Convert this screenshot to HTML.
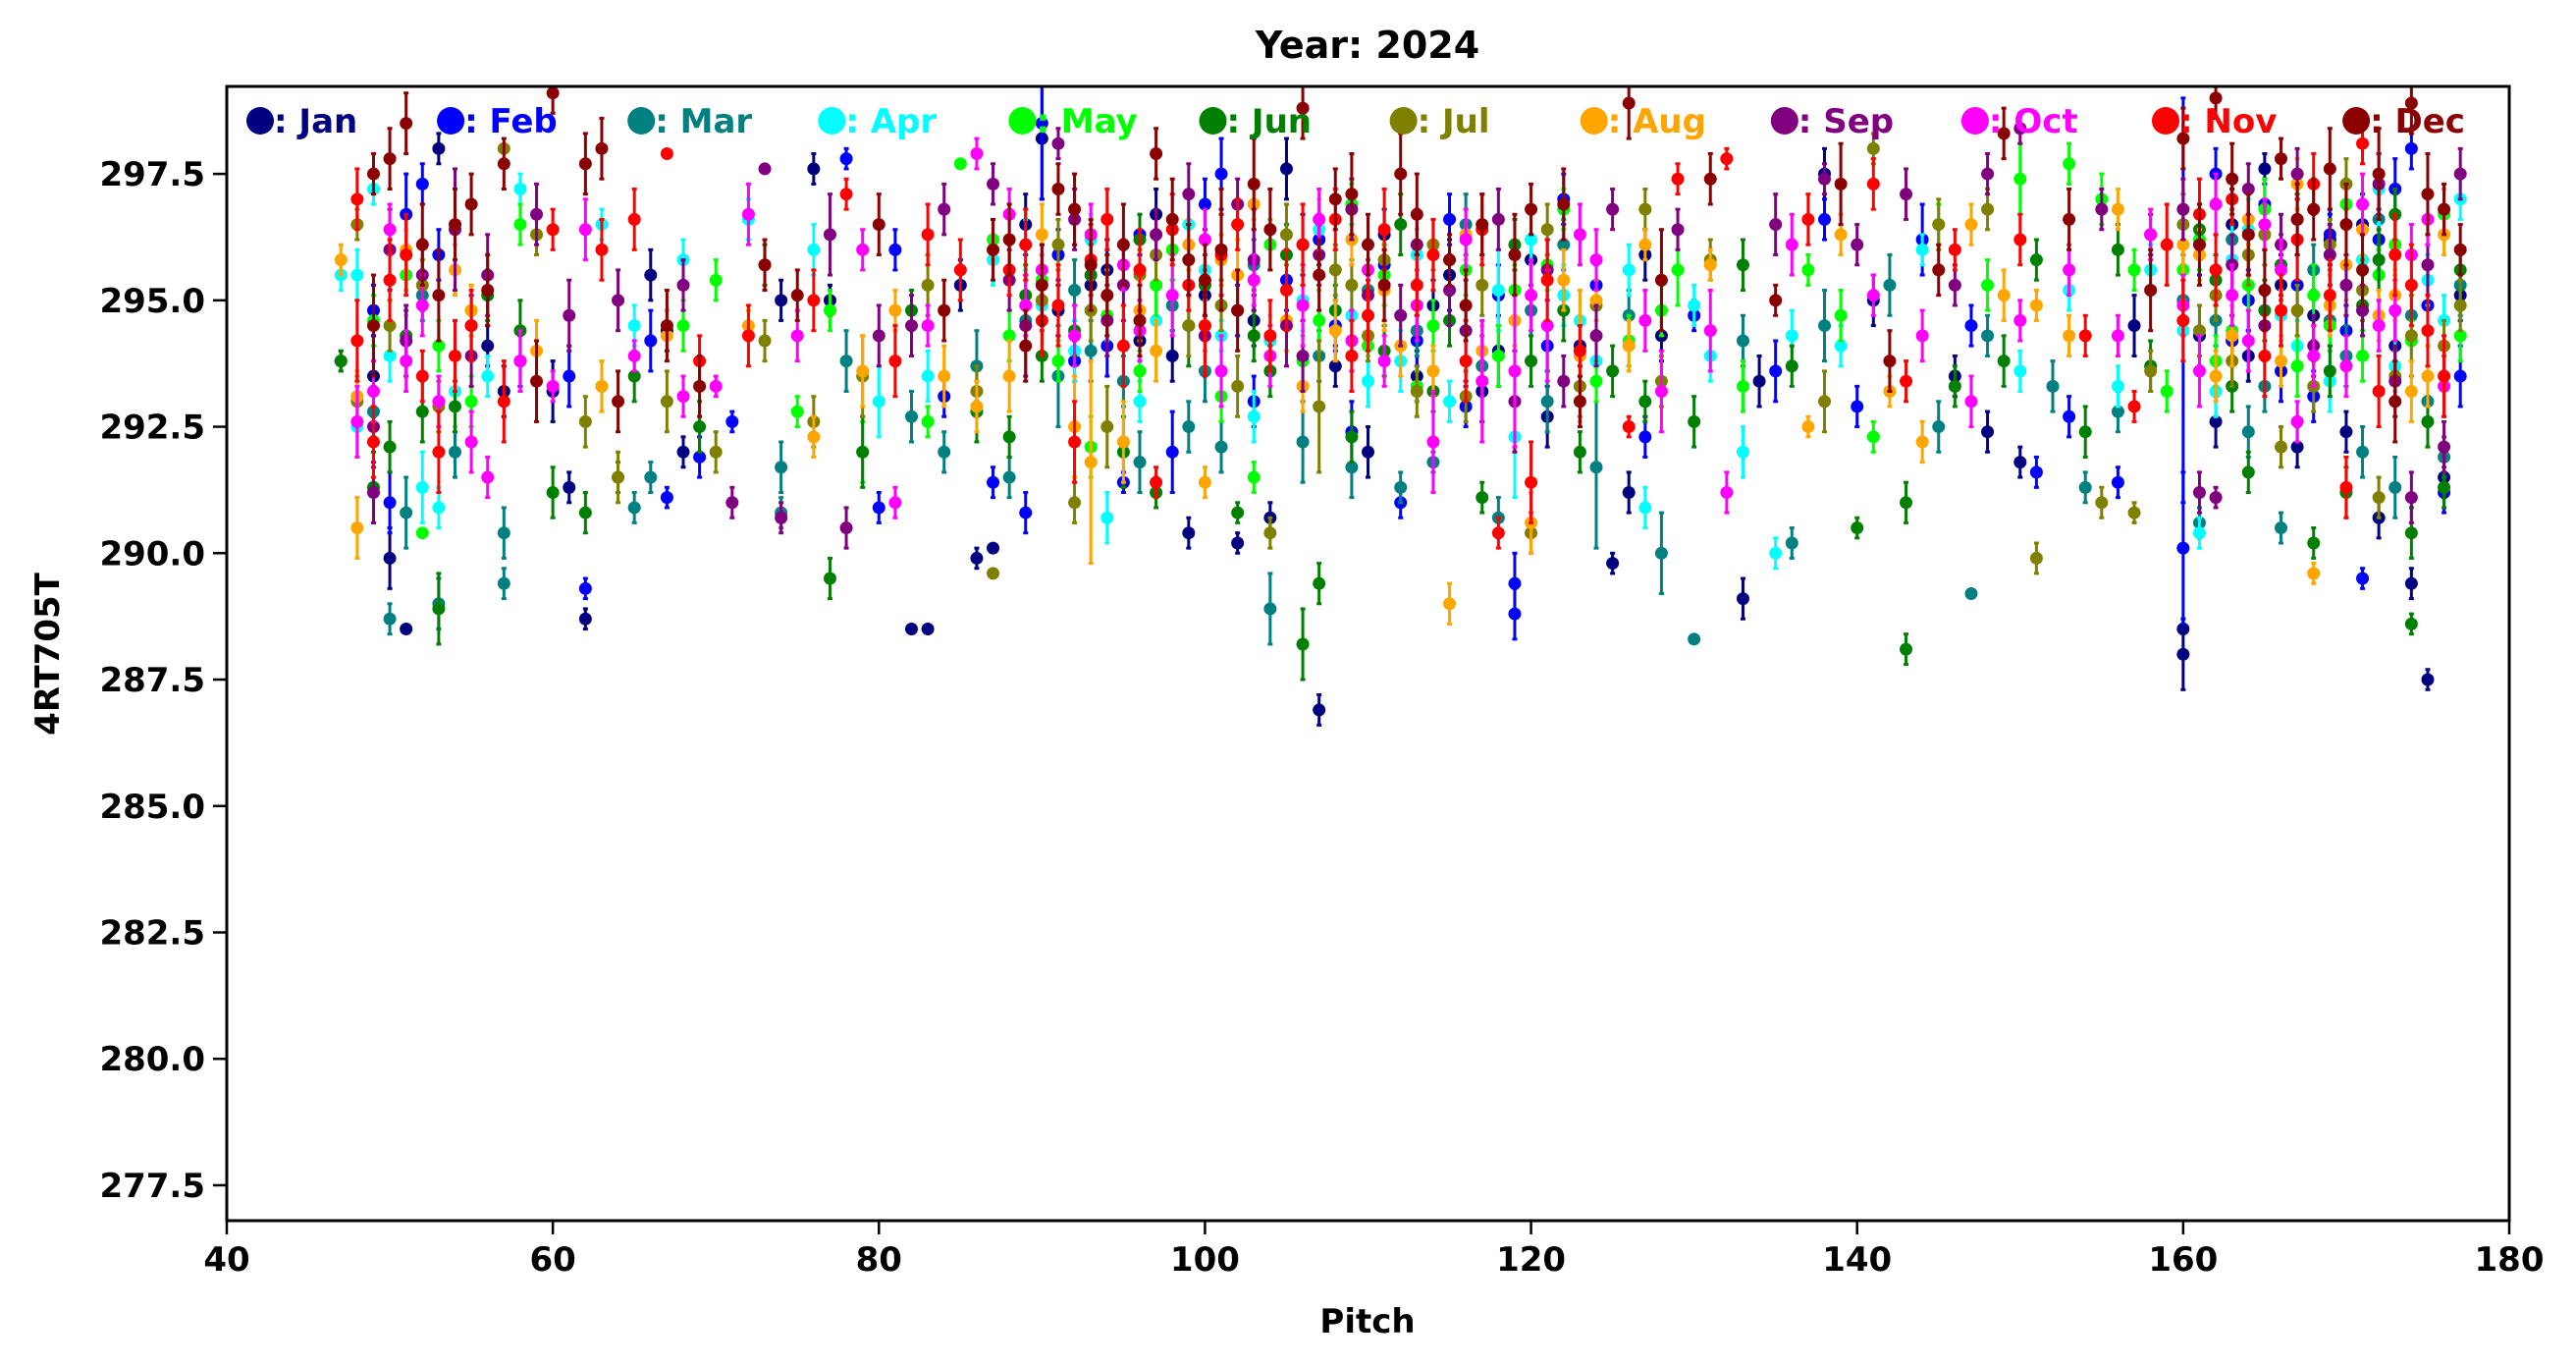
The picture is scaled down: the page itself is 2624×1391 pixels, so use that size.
<!DOCTYPE html>
<html><head><meta charset="utf-8"><style>
html,body{margin:0;padding:0;background:#fff;}
svg{display:block;font-family:"DejaVu Sans","Liberation Sans",sans-serif;font-weight:bold;}
</style></head><body>
<svg id="chart" width="2624" height="1391" viewBox="0 0 2624 1391" xmlns="http://www.w3.org/2000/svg">
<rect width="2624" height="1391" fill="#fff"/>
<defs><clipPath id="clip"><rect x="231" y="88" width="2325" height="1155"/></clipPath></defs>
<text x="1393" y="59" font-size="38" text-anchor="middle">Year: 2024</text>
<g id="marks" clip-path="url(#clip)"></g>
<g id="axes"></g>
<g id="legend"></g>
<text x="1393" y="1357" font-size="34" text-anchor="middle">Pitch</text>
<text transform="translate(60,666) rotate(-90)" font-size="34" text-anchor="middle">4RT705T</text>
</svg>
<script>
const months = ["Jan","Feb","Mar","Apr","May","Jun","Jul","Aug","Sep","Oct","Nov","Dec"];
const monthColors = ["#000080","#0000ff","#008080","#00ffff","#00ff00","#008000","#808000","#ffa500","#800080","#ff00ff","#ff0000","#8b0000"];
const xTicks = [40,60,80,100,120,140,160,180];
const yTicks = [277.5,280.0,282.5,285.0,287.5,290.0,292.5,295.0,297.5];
const yTickLabels = ["277.5","280.0","282.5","285.0","287.5","290.0","292.5","295.0","297.5"];
// each month: flattened [pitch, value, error] triples
const dataJan = [49,293.5,0.8,50,289.9,0.6,51,288.5,0,53,298,0.3,57,293.2,0.5,60,293.2,0.6,61,291.3,0.3,62,288.7,0.2,66,295.5,0.5,67,294.4,0.4,68,292,0.3,74,295,0.4,76,297.6,0.3,77,295,0.3,82,288.5,0,83,288.5,0,86,289.9,0.2,87,290.1,0,89,296.5,0.6,90,298.2,1.2,93,295.3,0.5,96,294.2,0.4,99,290.4,0.3,102,290.2,0.2,104,290.7,0.3,107,286.9,0.3,110,292,0.5,113,293.5,0.5,118,294,0.7,121,292.7,0.6,125,289.8,0.2,126,291.2,0.4,128,294.3,0.5,133,289.1,0.4,134,293.4,0.5,138,297.5,0.5,141,295,0.5,146,293.5,0.4,148,292.4,0.4,150,291.8,0.3,157,294.5,0.6,160,288,0.7,160,288.5,0,163,296.5,0.7,165,297.6,0.3,168,294.7,0.5,170,292.4,0.4,172,290.7,0.4,174,289.4,0.3,175,287.5,0.2,176,291.5,0.4,171,296.5,0.6,115,295.5,0.7,105,297.6,0.6,97,296.7,0.5,85,295.3,0.5,
 91,294.8,0.5,94,295.6,0.6,98,293.9,0.5,100,295.1,0.4,103,294.6,0.5,106,296.1,0.6,108,293.7,0.4,111,296.3,0.5,114,294.9,0.5,117,293.2,0.6,120,295.8,0.5,123,294.1,0.4,127,295.9,0.5,161,294.3,0.6,162,292.6,0.5,164,293.9,0.5,166,295.3,0.6,167,292.1,0.4,169,296.2,0.5,173,294.1,0.6,177,295.1,0.5,56,294.1,0.4];
const dataFeb = [49,294.8,0.5,50,291,0.6,51,296.7,0.8,52,297.3,0.4,55,294.5,0.6,61,293.5,0.6,62,289.3,0.2,66,294.2,0.6,67,291.1,0.2,69,291.9,0.4,71,292.6,0.2,78,297.8,0.2,80,290.9,0.3,81,296,0.4,84,293.1,0.4,87,291.4,0.3,89,290.8,0.4,90,298.5,1.5,92,293.8,0.4,95,291.4,0.2,98,292,0.8,100,296.9,0.5,101,297.5,0.7,103,293,0.5,107,296.2,0.5,109,292.4,0.6,112,291,0.3,116,292.9,0.4,119,288.8,0.5,119,289.4,0.6,122,297,0.5,127,292.3,0.4,130,294.7,0.3,135,293.6,0.6,138,296.6,0.4,140,292.9,0.4,144,296.2,0.7,147,294.5,0.4,151,291.6,0.3,156,291.4,0.3,160,290.1,1.5,160,295,4,162,297.5,0.5,166,293.6,0.6,169,296.3,0.5,171,289.5,0.2,173,297.2,0.6,174,298,0.4,176,291.2,0.4,177,293.5,0.6,164,295,0.6,153,292.7,0.4,
 91,295.9,0.5,94,294.1,0.6,96,296.3,0.4,102,294.8,0.5,105,295.4,0.6,108,294.5,0.5,111,295.7,0.4,113,294.2,0.5,115,296.6,0.5,118,295.1,0.6,121,294.1,0.5,124,295.3,0.4,161,296.1,0.6,163,294.2,0.5,165,296.9,0.5,167,295.3,0.6,168,293.1,0.5,170,294.4,0.5,172,296.2,0.6,175,294.9,0.5,58,293.8,0.5,53,295.9,0.5];
const dataMar = [47,293.8,0.2,50,288.7,0.3,51,290.8,0.7,53,289,0.5,57,289.4,0.3,57,290.4,0.5,64,291.5,0.3,65,290.9,0.3,66,291.5,0.3,74,290.8,0.3,74,291.7,0.5,78,293.8,0.6,82,292.7,0.5,84,292,0.4,86,293.7,0.7,88,291.5,0.4,91,293.5,1,93,294,0.6,96,291.8,0.6,99,292.5,0.5,101,292.1,0.5,104,288.9,0.7,106,292.2,0.8,109,291.7,0.6,112,291.3,0.3,114,291.8,0.2,116,296.5,0.6,118,290.7,0.4,121,293,0.6,124,291.7,1.6,128,290,0.8,130,288.3,0,133,294.2,0.5,136,290.2,0.3,138,294.5,0.7,142,295.3,0.6,145,292.5,0.5,147,289.2,0,148,294.3,0.4,152,293.3,0.5,154,291.3,0.3,156,292.8,0.4,160,295,0.7,161,290.6,0.3,164,292.4,0.5,166,290.5,0.3,169,294.6,0.5,171,292,0.5,173,291.3,0.6,175,293,0.5,176,291.9,0.4,177,295.3,0.6,54,292,0.5,
 89,294.6,0.5,92,295.2,0.6,95,293.4,0.5,98,294.9,0.5,100,293.6,0.6,103,295.7,0.5,107,293.9,0.5,110,295.2,0.6,113,294.4,0.5,117,293.7,0.6,120,294.8,0.5,122,296.1,0.5,126,294.7,0.5,162,294.6,0.5,163,296.2,0.6,165,293.3,0.5,168,295.6,0.5,170,293.9,0.6,172,296.6,0.5,174,294.7,0.5,49,292.8,0.5,52,295.1,0.5];
const dataApr = [48,292.5,0.6,48,295.5,0.5,49,297.2,0.3,51,294.2,0.5,52,291.3,0.7,53,290.9,0.4,54,293.2,0.7,56,293.5,0.4,58,297.2,0.3,63,296.5,0.3,65,294.5,0.4,68,295.8,0.4,72,296.6,0.4,76,296,0.5,80,293,0.7,83,293.5,0.5,87,295.8,0.5,89,296.1,0.5,92,294,0.6,94,290.7,0.5,96,293,0.4,99,296.5,0.6,101,294.3,0.3,103,292.7,0.5,106,295,0.6,109,294.7,0.5,112,293.8,0.6,115,293,0.4,118,295.2,0.8,119,292.3,1.2,122,295.1,0.6,124,293.8,0.5,127,290.9,0.4,130,294.9,0.4,131,293.9,0.5,133,292,0.5,135,290,0.3,136,294.3,0.5,139,294.1,0.4,144,296,0.3,150,293.6,0.4,153,295.2,0.4,156,293.3,0.4,158,295.6,0.5,161,290.4,0.3,163,295.8,0.7,166,294.7,0.5,169,293.4,0.6,172,297.2,0.7,175,295.4,0.5,177,297,0.4,47,295.5,0.3,
 90,294.9,0.5,93,296.2,0.5,97,294.6,0.6,100,295.6,0.5,104,294.2,0.5,107,296.4,0.6,110,293.4,0.5,113,295.9,0.5,116,294.4,0.6,120,296.2,0.5,123,294.6,0.6,126,295.6,0.5,160,294.4,0.6,162,293.2,0.5,164,296.4,0.6,167,294.1,0.5,171,295.8,0.6,173,293.7,0.5,176,294.6,0.5,50,293.9,0.5];
const dataMay = [49,294.6,0.5,51,295.5,0.3,52,290.4,0,55,293,0.5,58,296.5,0.4,63,293.3,0.5,68,294.5,0.5,70,295.4,0.4,75,292.8,0.3,77,294.8,0.4,79,292,0.6,83,292.6,0.3,85,297.7,0,88,294.3,0.5,91,293.8,0.4,93,292.1,0.6,96,293.6,0.4,98,296,0.6,101,293.1,0.5,103,291.5,0.3,107,294.6,0.6,110,294.1,0.3,113,293.3,0.3,116,295.6,0.5,119,295.2,0.5,122,296.8,0.4,124,293.4,0.4,128,294.8,0.5,129,295.6,0.7,133,293.3,0.5,137,295.6,0.3,139,294.7,0.5,141,292.3,0.3,145,296.5,0.4,148,295.3,0.5,150,297.4,0.7,153,297.7,0.4,155,297,0.5,157,295.6,0.4,159,293.2,0.4,161,296.2,0.6,163,294.4,0.5,165,296.8,0.6,168,295.1,0.6,170,296.9,0.5,172,295.5,0.5,174,294.2,0.4,176,296.7,0.5,87,296.2,0.4,109,296.9,0.4,
 90,295.4,0.5,94,294.7,0.5,97,295.3,0.6,100,294.5,0.5,104,296.1,0.5,106,293.8,0.5,111,295.5,0.6,114,294.5,0.5,118,293.9,0.6,121,295.7,0.5,126,294.2,0.5,160,295.6,0.6,162,293.8,0.5,164,295.3,0.5,167,293.7,0.6,169,294.5,0.5,171,293.9,0.5,173,296.1,0.6,177,294.3,0.5,53,294.1,0.5];
const dataJun = [47,293.8,0.2,49,291.3,0.7,50,292.1,0.5,52,292.8,0.6,53,288.9,0.7,54,292.9,0.5,56,295.1,0.5,58,294.4,0.6,60,291.2,0.5,62,290.8,0.4,65,293.5,0.5,69,292.5,0.5,73,295.7,0.4,77,289.5,0.4,79,292,0.7,82,294.8,0.4,86,292.8,0.6,88,292.3,0.4,90,293.9,0.5,93,295.5,0.6,95,292,0.7,97,291.2,0.3,99,294.5,0.8,102,290.8,0.2,104,293.6,0.5,106,288.2,0.7,107,289.4,0.4,109,292.3,0.5,111,294,0.5,114,293.2,0.4,117,291.1,0.3,120,293.8,0.5,123,292,0.4,127,293,0.4,130,292.6,0.5,133,295.7,0.5,136,293.7,0.4,140,290.5,0.2,143,288.1,0.3,143,291,0.4,146,293.3,0.4,149,293.8,0.5,151,295.8,0.4,154,292.4,0.5,156,296,0.5,158,293.7,0.5,162,295.4,0.5,164,291.6,0.4,166,295.7,0.6,168,290.2,0.3,170,291.2,0.5,172,295.8,0.6,174,288.6,0.2,174,290.4,0.5,176,291.3,0.4,177,295.6,0.4,
 89,295.1,0.6,92,294.4,0.5,96,296.2,0.5,100,295.3,0.6,103,294.3,0.5,105,295.9,0.6,108,294.8,0.5,112,296.5,0.6,115,294.6,0.5,119,296.1,0.5,122,294.8,0.6,125,293.6,0.5,161,296.4,0.5,163,293.3,0.5,165,294.8,0.6,167,296.6,0.5,169,293.6,0.5,171,294.9,0.6,173,296.7,0.5,175,292.6,0.5,51,294.3,0.5];
const dataJul = [48,296.5,0.3,48,293,0.5,50,294.5,0.5,53,292.9,0.5,55,294.8,0.5,57,298,0,59,296.3,0.4,62,292.6,0.5,64,291.5,0.5,67,293,0.6,70,292,0.4,73,294.2,0.4,76,292.6,0.5,79,293.5,0.8,83,295.3,0.6,86,293.2,0.5,87,289.6,0,90,295,0.6,92,291,0.4,94,292.5,0.8,96,295.5,0.5,99,294.5,0.6,102,293.3,0.6,104,290.4,0.3,107,292.9,1.3,109,295.3,0.5,111,295.8,0.6,113,293.2,0.5,116,293.1,0.5,120,290.4,0.4,123,293.3,0.6,127,296.8,0.4,128,293.4,0.5,131,295.8,0.4,138,293,0.6,141,298,0.3,145,296.5,0.5,148,296.8,0.4,151,289.9,0.3,155,291,0.3,157,290.8,0.2,158,293.6,0.4,161,294.4,0.5,164,295.9,0.6,166,292.1,0.4,168,293.3,0.5,170,297.3,0.5,172,291.1,0.4,174,294.3,0.8,176,294.1,0.5,
 91,296.1,0.5,93,294.8,0.6,97,295.9,0.5,101,294.9,0.5,105,296.3,0.6,108,295.6,0.5,110,294.3,0.5,114,296.1,0.5,117,295.3,0.6,121,296.4,0.5,124,294.9,0.5,160,296.5,0.6,162,295.1,0.5,163,293.8,0.5,165,296.3,0.6,167,294.8,0.5,169,296.1,0.5,171,295.2,0.6,173,293.5,0.5,177,294.9,0.5,52,295.3,0.5];
const dataAug = [47,295.8,0.3,48,290.5,0.6,48,293.1,0.5,51,296,0.4,55,294.8,0.5,59,294,0.6,63,293.3,0.5,67,294.3,0.5,72,294.5,0.3,76,292.3,0.4,79,293.6,0.7,81,294.8,0.4,84,293.5,0.6,86,292.9,0.5,88,293.5,0.7,92,292.5,1,93,291.8,2,95,292.2,0.8,97,294,0.6,100,291.4,0.3,102,295.5,0.7,103,296.9,0.3,106,293.3,0.5,108,294.4,0.6,111,295.2,0.8,114,293.6,0.5,115,289,0.4,117,294,0.5,120,290.6,0.6,123,293.9,1.3,124,295,0.4,127,296.1,0.3,131,295.7,0.3,137,292.5,0.2,139,296.3,0.4,142,293.2,0.3,144,292.2,0.4,147,296.5,0.4,149,295.1,0.5,151,294.9,0.3,153,294.3,0.4,156,296.8,0.4,160,296.1,0.6,162,293.5,0.5,165,294.5,0.6,168,289.6,0.2,170,295.7,0.7,172,294.7,0.5,175,293.5,0.6,176,296.3,0.4,167,297.3,0.5,
 90,296.3,0.6,94,295.1,0.5,96,294.8,0.6,99,296.1,0.5,101,295.8,0.5,105,294.6,0.6,109,296.2,0.5,112,294.1,0.6,116,296.3,0.5,119,294.6,0.5,122,295.4,0.6,126,294.1,0.5,161,295.9,0.5,163,294.3,0.6,164,296.6,0.5,166,293.8,0.5,169,294.9,0.6,171,296.4,0.5,173,295.1,0.5,174,293.2,0.6,54,295.6,0.5];
const dataSep = [49,292.5,0.8,49,291.2,0.6,50,296,0.8,52,295.5,0.7,54,296.4,1.2,56,295.5,0.8,59,296.7,0.6,61,294.7,0.7,64,295,0.6,68,295.3,0.5,71,291,0.3,73,297.6,0,74,290.7,0.3,77,296.3,0.8,78,290.5,0.4,80,294.3,0.6,82,294.5,0.6,84,296.8,0.5,87,297.3,0.4,89,294.5,1,91,298.1,0.3,94,294.6,0.7,97,296.3,0.5,100,294.3,0.8,103,295.8,1,105,294.5,0.8,107,295.9,0.6,110,295.1,0.5,113,296.1,0.7,116,294.4,1,119,293,1,122,293.4,0.5,125,296.8,0.4,129,296.4,0.4,135,296.5,0.6,138,297.4,0.3,140,296.1,0.4,143,297.1,0.5,146,295.3,0.4,148,297.5,0.4,150,298.4,0.3,155,296.8,0.4,158,296.3,0.4,160,296.8,0.6,161,291.2,0.4,162,291.1,0.2,165,294.5,0.6,167,297.5,0.5,169,295.9,0.6,171,294.8,0.5,173,293.4,0.7,174,291.1,0.5,176,292.1,0.5,177,297.5,0.5,
 88,295.4,0.6,92,296.6,0.6,95,295.3,0.7,99,297.1,0.6,102,296.9,0.5,106,293.9,0.7,109,296.8,0.6,112,294.7,0.6,115,295.2,0.7,118,296.6,0.6,121,295.6,0.6,124,294.3,0.6,163,295.7,0.6,164,297.2,0.5,166,296.1,0.6,168,294.1,0.6,170,295.3,0.6,172,297.3,0.6,175,295.7,0.6,55,293.9,0.6,51,294.2,0.7];
const dataOct = [48,292.6,0.7,49,293.2,0.6,50,296.4,0.5,51,293.8,0.6,53,293,0.5,55,292.2,0.6,56,291.5,0.4,58,293.8,0.6,60,293.3,0.3,62,296.4,0.6,65,293.9,0.3,68,293.1,0.4,70,293.3,0.2,72,296.7,0.6,75,294.3,0.5,79,296,0.4,81,291,0.3,83,294.5,0.4,86,297.9,0.3,88,296.7,0.5,90,295.6,0.5,92,294.3,0.6,95,295.7,0.5,98,295.1,0.8,101,293.6,0.7,103,295.4,0.5,106,294.9,0.8,109,294.2,0.6,111,293.8,0.5,114,292.2,1,117,293.4,1.2,119,293.6,1.5,121,294.5,1.1,124,295.8,0.6,128,293.2,0.8,131,294.4,0.8,132,291.2,0.4,136,296.1,0.6,141,295.1,0.4,144,294.3,0.5,147,293,0.5,150,294.6,0.4,153,295.6,0.5,156,294.3,0.4,158,296.3,0.5,161,293.6,0.7,163,295.1,0.6,165,296.5,0.5,167,292.6,0.4,170,293.7,0.6,172,294.5,0.5,175,296.6,0.5,176,293.3,0.6,
 89,294.9,0.6,93,296.3,0.6,96,294.4,0.6,100,296.2,0.6,104,293.9,0.6,107,296.6,0.6,110,295.6,0.6,113,294.9,0.7,116,296.2,0.6,120,295.1,0.7,123,296.3,0.6,127,294.6,0.6,160,294.9,0.6,162,296.9,0.6,164,294.2,0.6,166,295.6,0.6,168,293.9,0.6,171,296.9,0.6,173,294.8,0.6,174,295.9,0.6,52,294.9,0.6];
const dataNov = [48,297,0.6,48,294.2,0.8,49,292.2,0.7,50,295.4,0.8,52,293.5,0.5,53,292,0.8,55,294.5,0.7,57,293,0.8,60,296.4,0.4,63,296,0.6,65,296.6,0.6,67,297.9,0,69,293.8,0.5,72,294.3,0.6,76,295,0.6,78,297.1,0.3,81,293.8,0.7,83,296.3,0.6,85,295.6,0.6,88,295.6,0.5,90,294.6,0.7,92,292.2,0.8,94,296.6,0.6,96,295.6,0.8,97,291.4,0.3,99,295.3,0.5,100,294.5,1,102,296.5,0.5,105,295.2,0.8,108,296.6,0.6,110,294.7,0.7,113,295.3,0.6,116,293.8,0.8,118,290.4,0.3,120,291.4,0.8,123,294,0.5,126,292.5,0.2,129,297.4,0.3,132,297.8,0.2,137,296.6,0.5,141,297.3,0.5,143,293.4,0.4,146,296,0.4,150,296.2,0.5,154,294.3,0.4,157,292.9,0.3,159,296.1,0.8,161,296.7,0.7,163,297,0.5,165,293.9,0.8,168,297.3,0.6,170,291.3,0.6,172,293.2,0.7,174,295.3,0.8,176,293.5,0.8,171,298.1,0.4,
 89,296.1,0.7,91,294.9,0.8,93,295.8,0.7,95,294.1,0.8,98,296.4,0.7,101,295.9,0.8,104,294.3,0.7,106,296.1,0.8,109,293.9,0.7,111,296.4,0.8,114,295.9,0.7,117,296.4,0.7,121,295.4,0.8,160,294.6,0.8,162,295.6,0.7,164,296.3,0.8,166,294.8,0.7,167,296.2,0.8,169,295.1,0.7,173,295.9,0.8,175,294.4,0.7,51,295.9,0.8,54,293.9,0.7];
const dataDec = [49,297.5,0.4,49,294.5,1,50,297.8,0.6,51,298.5,0.6,53,295.1,0.9,54,296.5,0.7,55,296.9,0.6,57,297.7,0.5,59,293.4,0.8,60,299.1,0.4,62,297.7,0.6,63,298,0.6,64,293,0.6,67,294.5,0.7,69,293.3,0.6,73,295.7,0.5,75,295.1,0.5,80,296.5,0.6,84,294.8,0.6,87,296,0.6,89,294.1,0.7,91,297.2,0.5,93,295.7,0.9,95,296.1,0.8,97,297.9,0.5,99,295.8,0.7,101,296,1.2,103,297.3,0.9,106,298.8,0.6,108,297,0.6,110,296.1,0.6,112,297.5,0.8,115,295.8,0.5,117,296.5,0.6,120,296.8,0.5,123,293,0.5,126,298.9,0.7,128,295.4,1,131,297.4,0.5,135,295,0.3,139,297.3,0.8,142,293.8,0.6,145,295.6,0.5,149,298.3,0.5,153,296.6,0.6,158,295.2,0.8,160,298.2,0.6,162,299,0.4,164,296.3,0.8,166,297.8,0.4,168,296.8,0.6,170,296.5,0.8,172,297.5,0.9,173,293,0.8,174,298.9,0.6,176,296.8,0.5,177,296,0.5,
 88,296.2,0.7,90,295.3,0.8,92,296.8,0.7,94,295.1,0.8,96,294.6,0.7,98,296.6,0.8,100,295.4,0.7,102,294.8,0.8,104,296.4,0.8,107,295.5,0.7,109,297.1,0.8,111,295.3,0.7,113,296.7,0.8,116,294.9,0.7,119,295.9,0.8,122,296.9,0.7,161,296.1,0.8,163,297.4,0.7,165,295.2,0.8,167,296.6,0.7,169,297.6,0.8,171,295.6,0.7,175,297.1,0.8,52,296.1,0.8,56,295.2,0.7];
const monthData = [dataJan,dataFeb,dataMar,dataApr,dataMay,dataJun,dataJul,dataAug,dataSep,dataOct,dataNov,dataDec];

const NS="http://www.w3.org/2000/svg";
const X0=231,X1=2556,Y0=1243,Y1=88,XMIN=40,XMAX=180,YMIN=276.80,YMAX=299.23;
function xs(v){return X0+(v-XMIN)/(XMAX-XMIN)*(X1-X0);}
function ys(v){return Y0-(v-YMIN)/(YMAX-YMIN)*(Y0-Y1);}
function mk(tag,attrs,parent){const e=document.createElementNS(NS,tag);for(const k in attrs)e.setAttribute(k,attrs[k]);parent.appendChild(e);return e;}

const marks=document.getElementById('marks');
monthData.forEach((d,mi)=>{
  const g=mk('g',{},marks);
  
  
  const c=monthColors[mi];
  for(let i=0;i<d.length;i+=3){
    const x=xs(d[i]),y=ys(d[i+1]),e=d[i+2];
    if(e>0){
      const ya=ys(d[i+1]-e),yb=ys(d[i+1]+e);
      const l=mk('line',{x1:x,x2:x,y1:ya,y2:yb,stroke:c,'stroke-width':3},g);
      
      
      mk('line',{x1:x-2.5,x2:x+2.5,y1:ya,y2:ya,stroke:c,'stroke-width':3},g);
      mk('line',{x1:x-2.5,x2:x+2.5,y1:yb,y2:yb,stroke:c,'stroke-width':3},g);
    }
    const p=mk('circle',{cx:x,cy:y,r:6.5,fill:c},g);
    
    
  }
});

const axes=document.getElementById('axes');
mk('rect',{x:X0,y:Y1,width:X1-X0,height:Y0-Y1,fill:'none',stroke:'#000','stroke-width':3},axes);
xTicks.forEach(t=>{
  const x=xs(t);
  mk('line',{x1:x,x2:x,y1:Y0,y2:Y0+14,stroke:'#000','stroke-width':2.5},axes);
  const tx=mk('text',{x:x,y:Y0+51,'font-size':34,'text-anchor':'middle'},axes);
  tx.textContent=t;
  
  
});
yTicks.forEach((t,i)=>{
  const y=ys(t);
  mk('line',{x1:X0-14,x2:X0,y1:y,y2:y,stroke:'#000','stroke-width':2.5},axes);
  const tx=mk('text',{x:X0-22,y:y+12,'font-size':34,'text-anchor':'end'},axes);
  tx.textContent=yTickLabels[i];
  
  
});

const legend=document.getElementById('legend');
months.forEach((m,i)=>{
  const lx=265+i*194.1,ly=123;
  const g=mk('g',{},legend);
  
  
  mk('circle',{cx:lx,cy:ly,r:14,fill:monthColors[i]},g);
  const t=mk('text',{x:lx+14,y:ly+12,'font-size':34,fill:monthColors[i]},g);
  t.textContent=': '+m;
});
</script>
</body></html>
